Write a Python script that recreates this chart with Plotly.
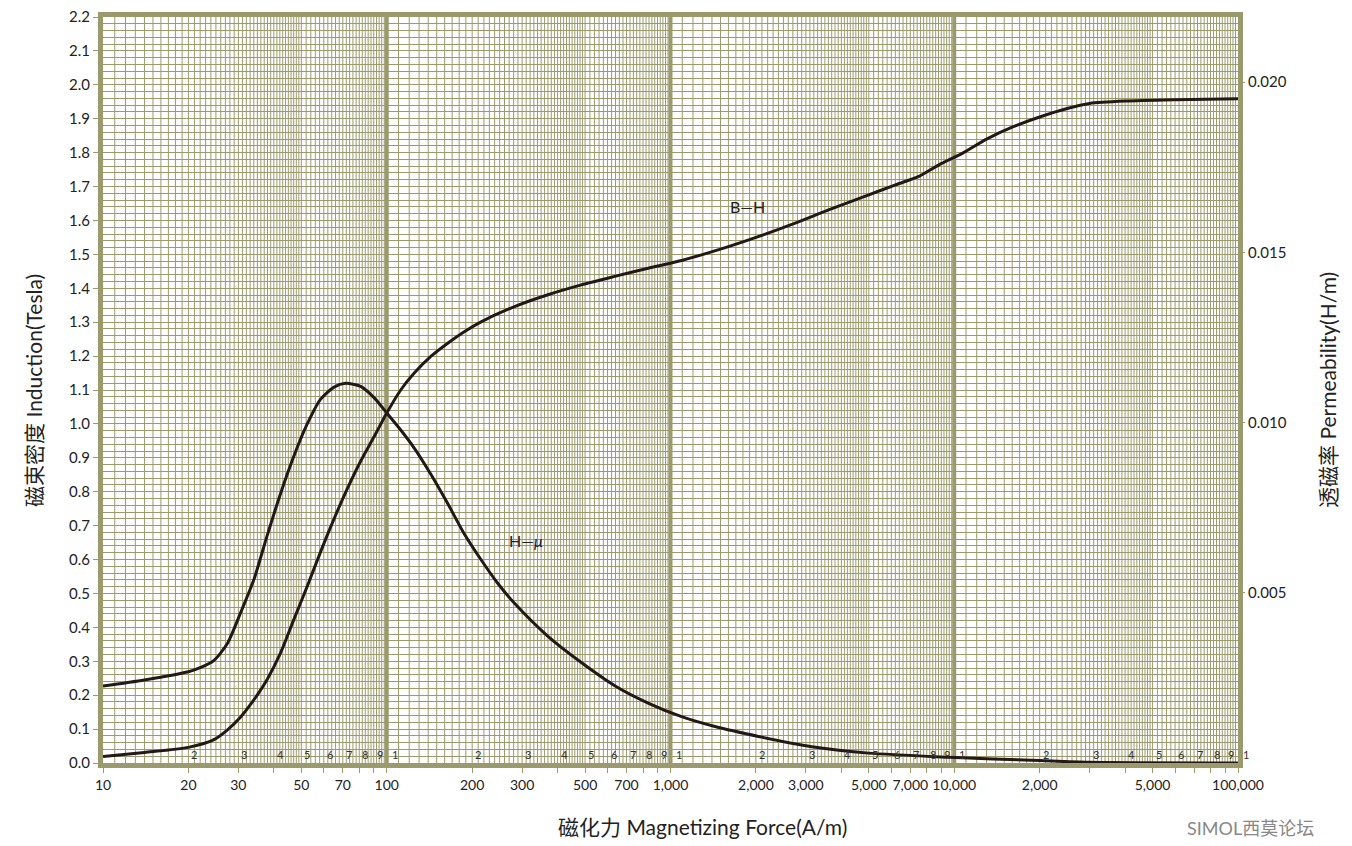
import math
import plotly.graph_objects as go

# B-H curve (left axis, Tesla)
h_bh = [10, 14, 20, 24.5, 27.4, 30.5, 34, 37.8, 42.2, 47, 52.4, 58.4, 65.2, 72.7, 80.9, 90.2,
        100, 112, 125, 143, 164, 187, 215, 282, 370, 485, 636, 834, 1094, 1600, 2099, 2750,
        3606, 4733, 6207, 7500, 8830, 10670, 13000, 16000, 20000, 25000, 30000, 40000, 60000, 100000]
b_vals = [0.019, 0.031, 0.046, 0.068, 0.097, 0.135, 0.186, 0.245, 0.324, 0.422, 0.520, 0.622, 0.720,
          0.810, 0.890, 0.962, 1.032, 1.100, 1.150, 1.199, 1.238, 1.271, 1.301, 1.346, 1.381, 1.410,
          1.435, 1.459, 1.482, 1.523, 1.556, 1.592, 1.631, 1.668, 1.705, 1.730, 1.764, 1.798, 1.840,
          1.875, 1.905, 1.930, 1.945, 1.952, 1.956, 1.959]

# H-mu curve (right axis, H/m)
h_mu = [10, 14, 20, 22, 24.5, 27.4, 30.5, 34, 37.8, 42.2, 47, 52.4, 58.4, 65.2, 71.6, 80.9, 90.2,
        100, 112, 125, 143, 164, 187, 215, 246, 282, 370, 485, 636, 834, 1094, 1434,
        2042, 3148, 4990, 9570, 20000, 30000, 100000]
mu_vals = [0.00226, 0.00244, 0.00268, 0.00280, 0.00300, 0.00350, 0.0044, 0.00538, 0.00665, 0.00790,
           0.00900, 0.00995, 0.01068, 0.01104, 0.01115, 0.01106, 0.01073, 0.01028, 0.00978, 0.00925,
           0.00848, 0.00762, 0.00675, 0.00597, 0.00528, 0.00469, 0.00372, 0.00295, 0.00227, 0.00176,
           0.00136, 0.00107, 0.00078, 0.00048, 0.00029, 0.00017, 0.00007, 0.00002, 0.0]

x_tick_vals = [10, 20, 30, 50, 70, 100, 200, 300, 500, 700, 1000, 2000, 3000, 5000, 7000,
               10000, 20000, 50000, 100000]
x_tick_text = ["10", "20", "30", "50", "70", "100", "200", "300", "500", "700", "1,000", "2,000",
               "3,000", "5,000", "7,000", "10,000", "2,000", "5,000", "100,000"]
y_tick_vals = [0.0, 0.1, 0.2, 0.3, 0.4, 0.5, 0.6, 0.7, 0.8, 0.9, 1.0, 1.1, 1.2, 1.3, 1.4, 1.5,
               1.6, 1.7, 1.8, 1.9, 2.0, 2.1, 2.2]
y2_tick_vals = [0.005, 0.010, 0.015, 0.020]
decades = [10, 100, 1000, 10000]
digit_labels = ["2", "3", "4", "5", "6", "7", "8", "9", "1"]

GRID = "#9b9a6c"
INK = "#231816"
FONT = "Lato, 'Noto Sans CJK SC', sans-serif"

# log-paper vertical rulings
thin_x, thin_y = [], []
for base in decades:
    steps = list(range(11, 50)) + list(range(50, 100, 2))
    for m in steps:
        thin_x += [base * m / 10, base * m / 10, None]
        thin_y += [0, 2.2, None]
thick_x, thick_y = [], []
for v in [100, 1000, 10000]:
    thick_x += [v, v, None]
    thick_y += [0, 2.2, None]

fig = go.Figure()
fig.add_trace(go.Scatter(x=thin_x, y=thin_y, mode="lines", line=dict(color=GRID, width=1),
                         hoverinfo="skip", showlegend=False))
fig.add_trace(go.Scatter(x=thick_x, y=thick_y, mode="lines", line=dict(color=GRID, width=4),
                         hoverinfo="skip", showlegend=False))
fig.add_trace(go.Scatter(x=h_bh, y=b_vals, mode="lines", name="B-H",
                         line=dict(color=INK, width=3, shape="spline", smoothing=0.7)))
fig.add_trace(go.Scatter(x=h_mu, y=mu_vals, mode="lines", name="H-mu", yaxis="y2",
                         line=dict(color=INK, width=3, shape="spline", smoothing=0.7)))

all_digits = []
for base in decades:
    all_digits += [base * d for d in range(1, 10)]
all_digits.append(100000)
ticktext = []
for v in all_digits:
    ticktext.append(x_tick_text[x_tick_vals.index(v)] if v in x_tick_vals else "")

# page body has an 8px margin, so the figure is a bit smaller and margins shifted
fig.update_layout(
    width=1344, height=838,
    margin=dict(l=95, r=114, t=9, b=83),
    paper_bgcolor="white", plot_bgcolor="white",
    showlegend=False,
    font=dict(family=FONT, color="#222", size=15),
    xaxis=dict(type="log", range=[1, 5], tickmode="array", tickvals=all_digits, ticktext=ticktext,
               tickangle=0, automargin=False, ticklabeloverflow="allow",
               showgrid=False, zeroline=False, showline=True, linecolor=GRID, linewidth=5,
               mirror=True, ticks="outside", ticklen=5, tickcolor=GRID,
               tickfont=dict(size=14, color="#222")),
    yaxis=dict(range=[0, 2.2], tickmode="array", tickvals=y_tick_vals, tickformat=".1f",
               automargin=False, ticklabeloverflow="allow",
               showgrid=True, gridcolor=GRID, gridwidth=1, zeroline=False,
               minor=dict(dtick=0.02, tick0=0, showgrid=True, gridcolor=GRID, gridwidth=1),
               showline=True, linecolor=GRID, linewidth=5, mirror=True,
               ticks="outside", ticklen=5, tickcolor=GRID, tickfont=dict(size=15, color="#222")),
    yaxis2=dict(overlaying="y", side="right", range=[0, 0.02191], tickmode="array",
                tickvals=y2_tick_vals, tickformat=".3f", showgrid=False,
                automargin=False, ticklabeloverflow="allow",
                zeroline=False, showline=False, ticks="outside", ticklen=6, tickcolor=GRID,
                tickfont=dict(size=15, color="#222")),
)

ann = []
for base in decades:
    for i, lab in enumerate(digit_labels):
        v = base * (i + 2)
        ann.append(dict(x=math.log10(v), y=0, xref="x", yref="y", text=lab, showarrow=False,
                        xanchor="left", yanchor="bottom", xshift=1 if lab != "1" else 3, yshift=0,
                        font=dict(size=11, color="#333")))
ann.append(dict(x=math.log10(1870), y=1.64, xref="x", yref="y", text="B\u2014H", showarrow=False,
                font=dict(size=16, color="#222")))
ann.append(dict(x=math.log10(310), y=0.655, xref="x", yref="y", text="H\u2014<i>\u03bc</i>",
                showarrow=False, font=dict(size=16, color="#222")))
ann.append(dict(x=0.5278, y=-0.0845, xref="paper", yref="paper", text="磁化力 Magnetizing Force(A/m)",
                xanchor="center", yanchor="middle", showarrow=False, font=dict(size=21, color="#222")))
ann.append(dict(x=-0.0617, y=0.5, xref="paper", yref="paper", text="磁束密度 Induction(Tesla)",
                xanchor="center", yanchor="middle", textangle=-90, showarrow=False,
                font=dict(size=21, color="#222")))
ann.append(dict(x=1.0784, y=0.5, xref="paper", yref="paper", text="透磁率 Permeability(H/m)",
                xanchor="center", yanchor="middle", textangle=-90, showarrow=False,
                font=dict(size=21, color="#222")))
ann.append(dict(x=1.0106, y=-0.0875, xref="paper", yref="paper", text="SIMOL西莫论坛",
                xanchor="center", yanchor="middle", showarrow=False,
                font=dict(size=18, color="#888")))
fig.update_layout(annotations=ann)

fig.write_html("out.html")
